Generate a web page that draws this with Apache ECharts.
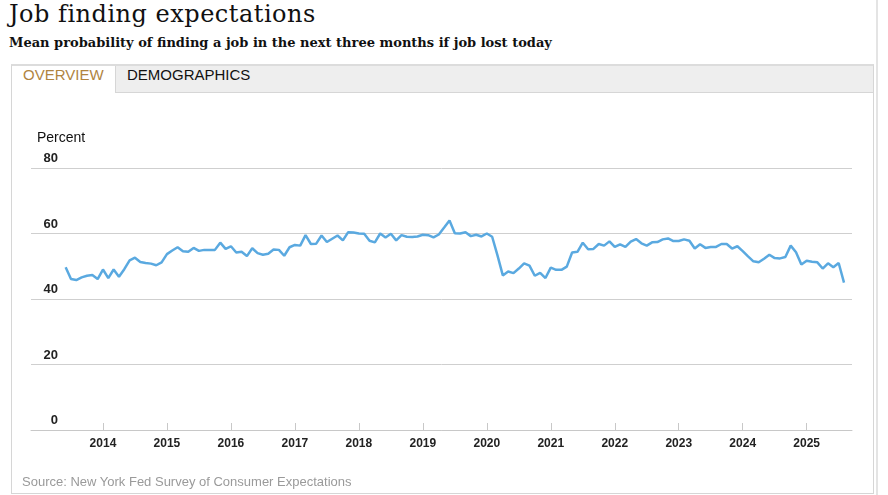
<!DOCTYPE html>
<html>
<head>
<meta charset="utf-8">
<title>Job finding expectations</title>
<script src="https://cdn.jsdelivr.net/npm/echarts@6/dist/echarts.min.js"></script>
<style>
    html, body { margin: 0; padding: 0; background: #fff; }
    #page { position: relative; width: 888px; height: 495px; overflow: hidden; }
    #title { position: absolute; left: 9px; top: 0px; margin: 0; font: normal 24px "DejaVu Serif", serif; letter-spacing: 0.5px; color: #111; white-space: nowrap; }
    #subtitle { position: absolute; left: 9px; top: 35px; margin: 0; font: bold 13px "DejaVu Serif", serif; color: #111; white-space: nowrap; }
    #panel { position: absolute; left: 11px; top: 64px; width: 861px; height: 427px; border: 1px solid #d6d6d6; border-top: 2px solid #dcdcdc; }
    #tabs { position: absolute; left: 0; top: 0; right: 0; height: 26px; background: #eeeeee; border-bottom: 1px solid #d6d6d6; }
    .tab { position: absolute; top: 0; height: 26px; line-height: 26px; font: 15px "Liberation Sans", Arial, sans-serif; }
    #tabOverview { left: 0; width: 103px; height: 27px; background: #fff; border-right: 1px solid #d6d6d6; color: #b0843f; text-indent: 11px; }
    #tabDemo { left: 115px; color: #111; }
    #edge { position: absolute; left: 876px; top: 0; width: 2px; height: 495px; background: #e4e4e4; }
    #source { position: absolute; left: 22px; top: 474px; font: 13px "Liberation Sans", Arial, sans-serif; color: #9a9a9a; white-space: nowrap; }
    #chart { position: absolute; left: 0; top: 0; width: 888px; height: 495px; }
</style>
</head>
<body>
<div id="page">
    <h1 id="title">Job finding expectations</h1>
    <p id="subtitle">Mean probability of finding a job in the next three months if job lost today</p>
    <div id="panel">
        <div id="tabs">
            <div class="tab" id="tabOverview">OVERVIEW</div>
            <div class="tab" id="tabDemo">DEMOGRAPHICS</div>
        </div>
    </div>
    <div id="edge"></div>
    <div id="chart"></div>
    <div id="source">Source: New York Fed Survey of Consumer Expectations</div>
</div>
<script>
/********************************************************************************
 * data (monthly, Jun 2013 - Aug 2025, percent)
 ********************************************************************************/
var firstMonth = "2013-06";
var jobFinding = [
    49.7, 46.1, 45.8, 46.6, 47.1, 47.3, 46.1,                               // 2013
    49.0, 46.4, 49.0, 46.8, 49.1, 51.8, 52.6, 51.3, 51.0, 50.8, 50.3, 51.2, // 2014
    53.7, 54.8, 55.8, 54.6, 54.4, 55.6, 54.7, 55.0, 55.0, 55.0, 57.2, 55.3, // 2015
    56.1, 54.2, 54.4, 53.1, 55.5, 54.0, 53.5, 53.8, 55.1, 55.0, 53.2, 55.8, // 2016
    56.5, 56.3, 59.5, 56.8, 56.9, 59.4, 57.4, 58.4, 59.4, 57.9, 60.4, 60.3, // 2017
    60.0, 59.9, 57.8, 57.3, 60.0, 58.8, 59.9, 57.9, 59.5, 59.0, 58.9, 59.1, // 2018
    59.6, 59.5, 58.8, 59.7, 61.8, 64.0, 60.1, 60.0, 60.4, 59.2, 59.6, 59.1, // 2019
    60.0, 59.0, 53.3, 47.2, 48.4, 47.9, 49.3, 50.9, 50.2, 47.1, 48.0, 46.4, // 2020
    49.6, 48.9, 48.9, 49.9, 54.2, 54.4, 57.2, 55.2, 55.3, 56.8, 56.3, 57.6, // 2021
    55.9, 56.7, 55.9, 57.5, 58.3, 57.0, 56.3, 57.3, 57.4, 58.2, 58.5, 57.7, // 2022
    57.7, 58.2, 57.8, 55.4, 56.7, 55.6, 55.9, 55.9, 56.8, 56.8, 55.4, 56.1, // 2023
    54.6, 53.0, 51.5, 51.2, 52.3, 53.5, 52.5, 52.4, 52.8, 56.3, 54.3, 50.5, // 2024
    51.7, 51.4, 51.2, 49.3, 50.9, 49.7, 51.0, 45.0                          // 2025
];
// axis runs a little wider than the data on both sides
var axisFirstMonth = "2012-12";
var axisLastMonth = "2025-09";
var firstLabelYear = "2014";
var yTicks = [0, 20, 40, 60, 80];

/********************************************************************************
 * helpers
 ********************************************************************************/
function fnMonthList(from, to)
{
    var y = parseInt(from.substr(0, 4), 10);
    var m = parseInt(from.substr(5, 2), 10);
    var list = [];
    var s = "";
    // hard stop so a bad "to" can never hang the page
    while (s != to && list.length < 600)
    {
        s = y + "-" + (m < 10 ? "0" + m : "" + m);
        list.push(s);
        m++;
        if (m > 12) { m = 1; y++; }
    }
    return list;
}

function fnIsYearStart(idx, val)
{
    return val.substr(5, 2) == "01" && val.substr(0, 4) >= firstLabelYear;
}

var axisMonths = fnMonthList(axisFirstMonth, axisLastMonth);
var seriesData = [];
var start = axisMonths.indexOf(firstMonth);
for (var i = 0; i < jobFinding.length; i++)
{
    seriesData.push([axisMonths[start + i], jobFinding[i]]);
}

/********************************************************************************
 * chart
 ********************************************************************************/
var objChart = echarts.init(document.getElementById("chart"), null, { renderer: "canvas" });

var option = {
    animation: false,
    backgroundColor: "transparent",
    grid: { left: 31, right: 36, top: 168, bottom: 65, containLabel: false },
    xAxis: {
        type: "category",
        data: axisMonths,
        boundaryGap: true,
        axisLine: { show: true, lineStyle: { color: "#c8c8c8", width: 1 } },
        axisTick: { show: true, inside: true, length: 7, alignWithLabel: true, interval: fnIsYearStart, lineStyle: { color: "#c8c8c8" } },
        axisLabel: {
            interval: fnIsYearStart,
            margin: 8,
            color: "#222",
            fontFamily: "Liberation Sans, Arial, sans-serif",
            fontWeight: "bold",
            fontSize: 12,
            formatter: function (v) { return v.substr(0, 4); }
        },
        splitLine: { show: false }
    },
    yAxis: {
        type: "value",
        min: yTicks[0],
        max: yTicks[yTicks.length - 1],
        interval: yTicks[1] - yTicks[0],
        name: "Percent",
        nameLocation: "end",
        nameGap: 30,
        nameTextStyle: { align: "left", verticalAlign: "middle", padding: [0, 0, 0, 6], color: "#111", fontFamily: "Liberation Sans, Arial, sans-serif", fontSize: 14 },
        axisLine: { show: false },
        axisTick: { show: false },
        axisLabel: {
            inside: true,
            margin: 27,
            align: "right",
            verticalAlign: "bottom",
            padding: [0, 0, 3, 0],
            color: "#222",
            fontFamily: "Liberation Sans, Arial, sans-serif",
            fontWeight: "bold",
            fontSize: 13
        },
        splitLine: { show: true, lineStyle: { color: "#cfcfcf", width: 1 } }
    },
    series: [
        {
            name: "Job finding expectations",
            type: "line",
            data: seriesData,
            showSymbol: false,
            symbol: "none",
            lineStyle: { color: "#5aa9e0", width: 2.5 },
            itemStyle: { color: "#5aa9e0" }
        }
    ]
};

objChart.setOption(option);
</script>
</body>
</html>
